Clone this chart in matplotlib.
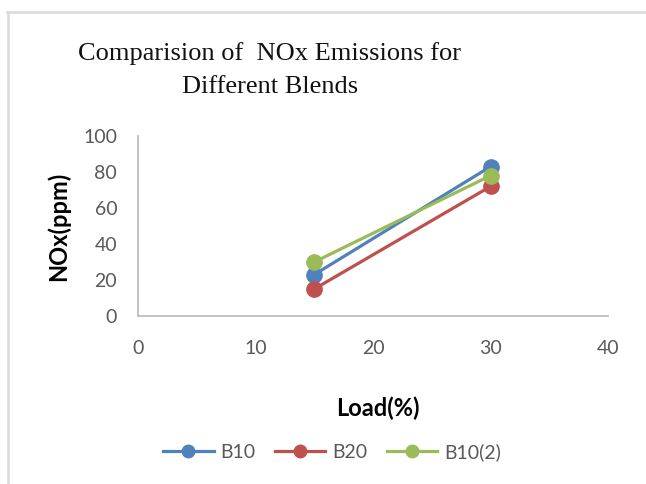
import matplotlib
matplotlib.use("Agg")
import matplotlib.pyplot as plt
from matplotlib.lines import Line2D

load = [15, 30]
b10 = [23, 83]
b20 = [15, 72]
b10_2 = [30, 78]
series_names = ["B10", "B20", "B10(2)"]
colors = ["#4f81bd", "#c0504d", "#9bbb59"]
x_ticks = [0, 10, 20, 30, 40]
y_ticks = [0, 20, 40, 60, 80, 100]

W, H = 646, 484
fig = plt.figure(figsize=(W / 100, H / 100), dpi=100)
fig.patch.set_facecolor("white")

# outer border (top and left visible)
fig.add_artist(Line2D([7 / W, 1], [1 - 12 / H, 1 - 12 / H], color="#d9d9d9", lw=1.8, transform=fig.transFigure))
fig.add_artist(Line2D([8 / W, 8 / W], [0, 1 - 12 / H], color="#d9d9d9", lw=1.8, transform=fig.transFigure))

ax = fig.add_axes([138 / W, 1 - 316 / H, (608 - 138) / W, (316 - 136) / H])
for vals, name, c in zip([b10, b20, b10_2], series_names, colors):
    ax.plot(load, vals, color=c, lw=2.3, marker="o", markersize=11, label=name, zorder=3, clip_on=False)

ax.set_xlim(0, 40)
ax.set_ylim(0, 100)
ax.set_xticks(x_ticks)
ax.set_yticks(y_ticks)
for s in ["top", "right"]:
    ax.spines[s].set_visible(False)
for s in ["left", "bottom"]:
    ax.spines[s].set_color("#bfbfbf")
    ax.spines[s].set_linewidth(1.3)
ax.tick_params(axis="both", length=0, labelsize=14, labelcolor="#595959")
ax.tick_params(axis="x", pad=17)
ax.tick_params(axis="y", pad=15)
for lab in ax.get_xticklabels() + ax.get_yticklabels():
    lab.set_fontfamily("Lato")

fig.text(270 / W, 1 - 70 / H, "Comparision of  NOx Emissions for\nDifferent Blends",
         ha="center", va="center", multialignment="center", fontsize=19,
         family="Liberation Serif", color="#111111", linespacing=1.6)

fig.text(58 / W, 1 - 226 / H, "NOx(ppm)", rotation=90, ha="center", va="center",
         fontsize=17, fontweight="bold", family="Lato", color="black")
fig.text(378 / W, 1 - 408 / H, "Load(%)", ha="center", va="center",
         fontsize=17, fontweight="bold", family="Lato", color="black")

leg = fig.legend(loc="center", bbox_to_anchor=(332 / W, 1 - 452 / H), ncol=3, frameon=False,
                 prop={"family": "Lato", "size": 14}, handlelength=2.6, columnspacing=1.0,
                 handletextpad=0.35)
for t in leg.get_texts():
    t.set_color("#595959")
for h in leg.legend_handles:
    h.set_markersize(9)

fig.savefig("out.png", dpi=100, facecolor="white")
